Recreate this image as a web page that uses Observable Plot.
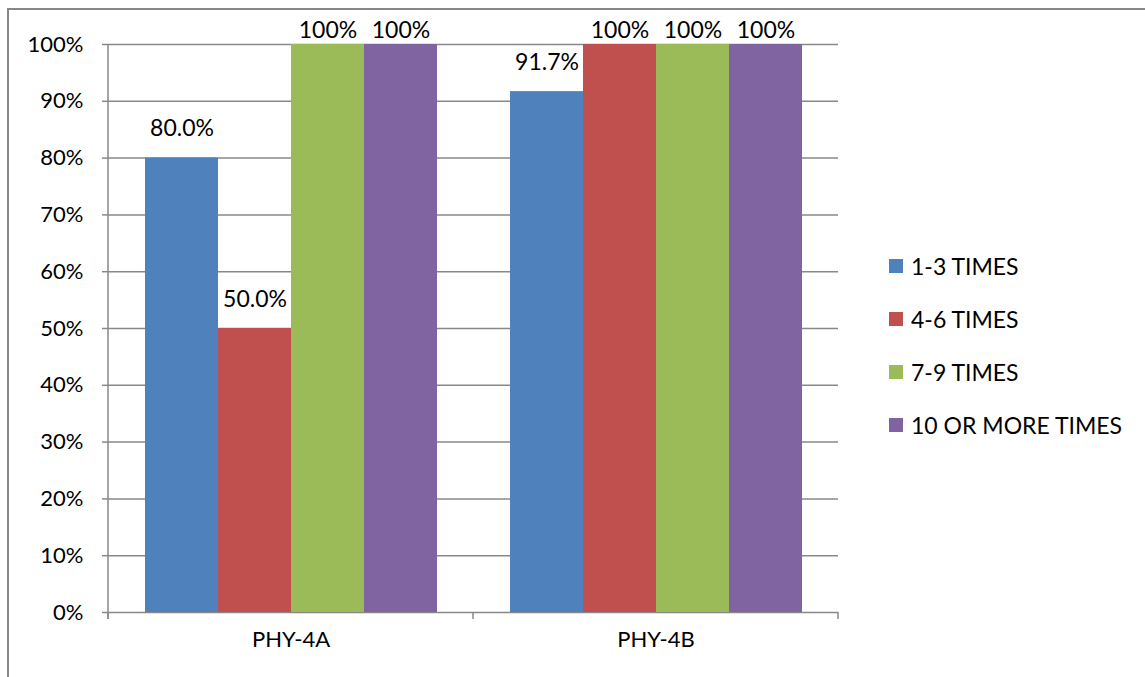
<!DOCTYPE html>
<html>
<head>
<meta charset="utf-8">
<script src="https://cdn.jsdelivr.net/npm/d3@7"></script>
<script src="https://cdn.jsdelivr.net/npm/@observablehq/plot@0.6"></script>
<style>
  body { margin: 0; background: #fff; }
  #wrap { position: relative; width: 1145px; height: 677px; overflow: hidden; font-family: Lato, "Open Sans", sans-serif; }
  #border { position: absolute; left: 7px; top: 8px; right: -10px; bottom: -10px; border-top: 2px solid #878787; border-left: 2px solid #878787; pointer-events: none; }
  #legend { position: absolute; left: 889px; top: 252px; font-size: 23px; color: #000; }
  .item { display: flex; align-items: center; height: 28px; margin-bottom: 25px; }
  .sw { width: 14px; height: 14px; margin-right: 8px; }
  #chart { position: absolute; left: 0; top: 0; }
</style>
</head>
<body>
<div id="wrap">
  <div id="chart"></div>
  <div id="border"></div>
  <div id="legend"></div>
</div>
<script>
const categories = ["PHY-4A", "PHY-4B"];
const series = ["1-3 TIMES", "4-6 TIMES", "7-9 TIMES", "10 OR MORE TIMES"];
const phy4a = [0.80, 0.50, 1.00, 1.00];
const phy4b = [0.917, 1.00, 1.00, 1.00];
const colors = ["#4F81BD", "#C0504D", "#9BBB59", "#8064A2"];
const yTicks = [0, 0.1, 0.2, 0.3, 0.4, 0.5, 0.6, 0.7, 0.8, 0.9, 1.0];

const valuesByCat = [phy4a, phy4b];
const data = [];
categories.forEach((c, ci) => series.forEach((s, si) => data.push({cat: c, ser: s, v: valuesByCat[ci][si]})));
const fmt = v => v >= 1 ? "100%" : (v * 100).toFixed(1) + "%";

const W = 1145, H = 677;
const plot = Plot.plot({
  width: W, height: H,
  marginLeft: 108, marginRight: 307, marginTop: 44, marginBottom: 65,
  style: {fontFamily: "Lato, 'Open Sans', sans-serif", fontSize: "22px", color: "#000", background: "transparent", overflow: "visible"},
  fx: {domain: categories, padding: 0, label: null, tickSize: 0, tickPadding: 19},
  x: {domain: series, paddingInner: 0, paddingOuter: 0.5, axis: null},
  y: {domain: [0, 1], ticks: yTicks, tickFormat: d3.format(".0%"), label: null, axis: null},
  color: {domain: series, range: colors},
  marks: [
    Plot.gridY(yTicks, {stroke: "#888888", strokeOpacity: 1, strokeWidth: 1.5}),
    Plot.axisY(yTicks, {tickFormat: d3.format(".0%"), tickSize: 6, tickPadding: 19, stroke: "#888888", strokeWidth: 1.5, fill: "#000", label: null}),
    Plot.barY(data, {fx: "cat", x: "ser", y: "v", fill: "ser"}),
    Plot.text(data.filter(d => d.v < 1), {fx: "cat", x: "ser", y: "v", text: d => fmt(d.v), dy: -29, fill: "#000", fontSize: 23}),
    Plot.text(data.filter(d => d.v >= 1), {fx: "cat", x: "ser", y: "v", text: d => fmt(d.v), dy: -14, fill: "#000", fontSize: 23})
  ]
});
document.getElementById("chart").appendChild(plot);

// axis line and category boundary ticks (Excel style)
const fxS = plot.scale("fx");
const yS = plot.scale("y");
const bw = fxS.bandwidth;
const y0 = yS.apply(0), y1 = yS.apply(1);
const svg = d3.select(plot);
const g = svg.append("g").attr("stroke", "#888888").attr("stroke-width", 1.5);
const left = fxS.apply(categories[0]);
g.append("line").attr("x1", left).attr("x2", left).attr("y1", y1).attr("y2", y0 + 7);
const bounds = new Set();
categories.forEach(c => { bounds.add(fxS.apply(c)); bounds.add(fxS.apply(c) + bw); });
[...bounds].forEach(x => g.append("line").attr("x1", x).attr("x2", x).attr("y1", y0).attr("y2", y0 + 7));

// legend
const lg = document.getElementById("legend");
series.forEach((s, i) => {
  const it = document.createElement("div"); it.className = "item";
  const sw = document.createElement("div"); sw.className = "sw"; sw.style.background = colors[i];
  const tx = document.createElement("span"); tx.textContent = s;
  it.appendChild(sw); it.appendChild(tx); lg.appendChild(it);
});
</script>
</body>
</html>
